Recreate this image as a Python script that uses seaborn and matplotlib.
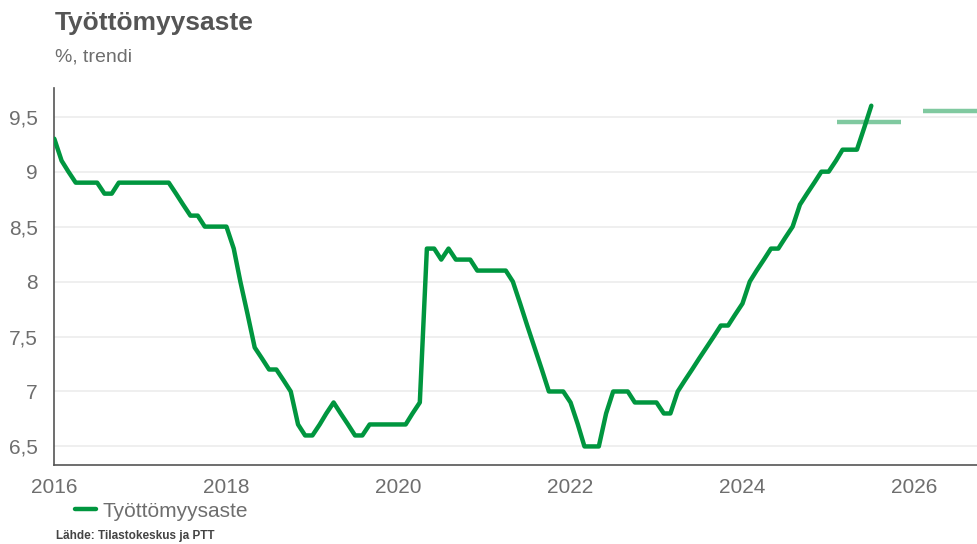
import numpy as np
import pandas as pd
import matplotlib.pyplot as plt
import matplotlib.dates as mdates
from matplotlib.ticker import FuncFormatter
import seaborn as sns

# Monthly unemployment rate trend, Jan 2016 .. Jul 2025
months = pd.date_range("2016-01-01", periods=115, freq="MS")
rate = [
    9.3, 9.1, 9.0, 8.9, 8.9, 8.9, 8.9, 8.8, 8.8, 8.9, 8.9, 8.9,
    8.9, 8.9, 8.9, 8.9, 8.9, 8.8, 8.7, 8.6, 8.6, 8.5, 8.5, 8.5,
    8.5, 8.3, 8.0, 7.7, 7.4, 7.3, 7.2, 7.2, 7.1, 7.0, 6.7, 6.6,
    6.6, 6.7, 6.8, 6.9, 6.8, 6.7, 6.6, 6.6, 6.7, 6.7, 6.7, 6.7,
    6.7, 6.7, 6.8, 6.9, 8.3, 8.3, 8.2, 8.3, 8.2, 8.2, 8.2, 8.1,
    8.1, 8.1, 8.1, 8.1, 8.0, 7.8, 7.6, 7.4, 7.2, 7.0, 7.0, 7.0,
    6.9, 6.7, 6.5, 6.5, 6.5, 6.8, 7.0, 7.0, 7.0, 6.9, 6.9, 6.9,
    6.9, 6.8, 6.8, 7.0, 7.1, 7.2, 7.3, 7.4, 7.5, 7.6, 7.6, 7.7,
    7.8, 8.0, 8.1, 8.2, 8.3, 8.3, 8.4, 8.5, 8.7, 8.8, 8.9, 9.0,
    9.0, 9.1, 9.2, 9.2, 9.2, 9.4, 9.6,
]

# Yearly forecasts (PTT), drawn as short horizontal segments
fc_start = [pd.Timestamp("2025-02-06"), pd.Timestamp("2026-02-06")]
fc_end = [pd.Timestamp("2025-11-06"), pd.Timestamp("2026-11-06")]
fc_value = [9.45, 9.55]

df = pd.DataFrame({"kk": months, "Työttömyysaste": rate})

sns.set_style("white")
plt.rcParams["font.family"] = ["Liberation Sans", "DejaVu Sans"]

GREEN = "#00963f"
FC_GREEN = "#80c9a0"
GREY = "#6e6e6e"

fig = plt.figure(figsize=(9.78, 5.44), dpi=100)
ax = fig.add_axes([0.0555, 0.145, 0.9445, 0.693])

for s, e, v in zip(fc_start, fc_end, fc_value):
    ax.plot([s, e], [v, v], color=FC_GREEN, lw=3.2, solid_capstyle="butt", zorder=2)

sns.lineplot(data=df, x="kk", y="Työttömyysaste", color=GREEN, lw=3.2,
             ax=ax, label="Työttömyysaste", zorder=3)

ax.set_xlim(pd.Timestamp("2016-01-01"), pd.Timestamp("2026-09-27"))
ax.set_ylim(6.33, 9.76)
ax.set_yticks([6.5, 7, 7.5, 8, 8.5, 9, 9.5])
ax.yaxis.set_major_formatter(FuncFormatter(lambda v, p: f"{v:g}".replace(".", ",")))
ax.xaxis.set_major_locator(mdates.YearLocator(2))
ax.xaxis.set_major_formatter(mdates.DateFormatter("%Y"))

ax.grid(axis="y", color="#ececec", lw=1.2)
ax.grid(axis="x", visible=False)
for side in ["top", "right"]:
    ax.spines[side].set_visible(False)
for side in ["left", "bottom"]:
    ax.spines[side].set_color("#555555")
    ax.spines[side].set_linewidth(1.2)
ax.tick_params(axis="y", length=6, color="#555555", labelsize=15, labelcolor=GREY, pad=6)
ax.tick_params(axis="x", length=0, labelsize=15, labelcolor=GREY, pad=9)
ax.set_xlabel("")
ax.set_ylabel("")

handles, labels = ax.get_legend_handles_labels()
ax.get_legend().remove()
fig.legend(handles, labels, loc="upper left", bbox_to_anchor=(0.0767, 0.078),
           frameon=False, fontsize=15, handlelength=1.0, handletextpad=0.3,
           labelcolor=GREY, borderaxespad=0, borderpad=0)

fig.text(0.056, 0.958, "Työttömyysaste", fontsize=19, fontweight="bold",
         color="#555555", va="center", ha="left")
fig.text(0.056, 0.895, "%, trendi", fontsize=14, color=GREY, va="center", ha="left")
fig.text(0.057, 0.004, "Lähde: Tilastokeskus ja PTT", fontsize=8.5, fontweight="bold",
         color="#444444", va="bottom", ha="left")

fig.savefig("out.png", dpi=100)
